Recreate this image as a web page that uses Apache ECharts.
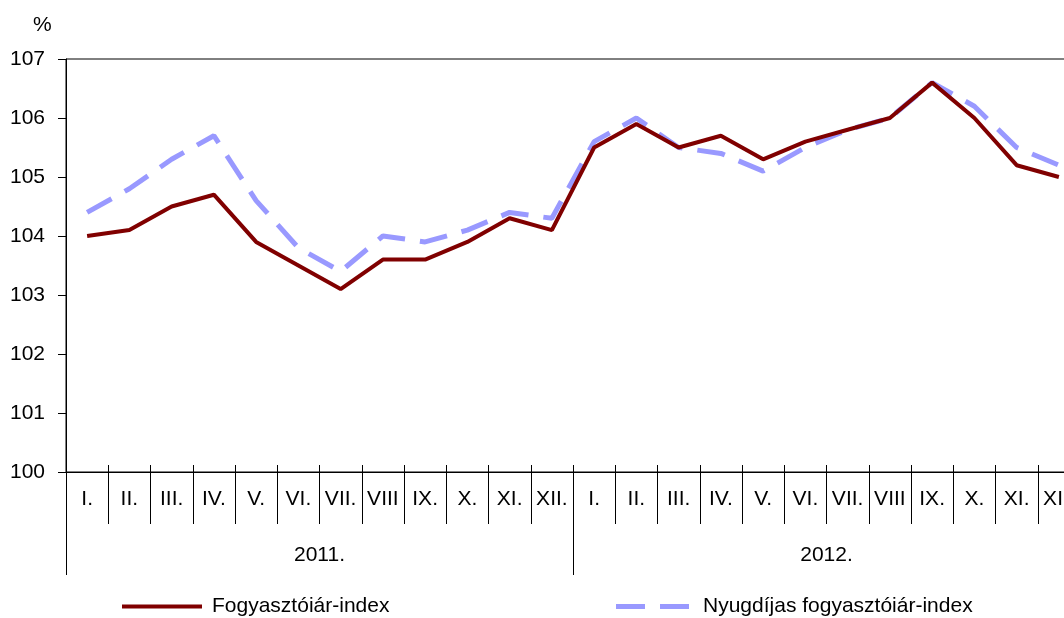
<!DOCTYPE html>
<html>
<head>
<meta charset="utf-8">
<script src="https://cdn.jsdelivr.net/npm/echarts@6/dist/echarts.min.js"></script>
<style>
html,body{margin:0;padding:0;background:#fff;overflow:hidden;width:1064px;height:618px;}
#chart{width:1080px;height:618px;}
</style>
</head>
<body>
<div id="chart"></div>
<script>
var months = ['I.','II.','III.','IV.','V.','VI.','VII.','VIII','IX.','X.','XI.','XII.',
              'I.','II.','III.','IV.','V.','VI.','VII.','VIII','IX.','X.','XI.','XII.'];
var years = ['2011.','2012.'];
var cpi = [104.0,104.1,104.5,104.7,103.9,103.5,103.1,103.6,103.6,103.9,104.3,104.1,
           105.5,105.9,105.5,105.7,105.3,105.6,105.8,106.0,106.6,106.0,105.2,105.0];
var pensionerCpi = [104.4,104.8,105.3,105.7,104.6,103.8,103.4,104.0,103.9,104.1,104.4,104.3,
                    105.6,106.0,105.5,105.4,105.1,105.5,105.8,106.0,106.6,106.2,105.5,105.2];
var yTicks = {min:100, max:107, interval:1};
var seriesNames = ['Fogyasztóiár-index','Nyugdíjas fogyasztóiár-index'];

var FONT = '"Liberation Sans", Arial, sans-serif';
var FS = 21;
var chart = echarts.init(document.getElementById('chart'));
var option = {
  animation:false,
  backgroundColor:'#fff',
  textStyle:{fontFamily:FONT, color:'#000'},
  grid:{left:66, top:59, right:0, bottom:146, show:true, borderColor:'#000', borderWidth:1},
  graphic:[{type:'text', left:33, top:15, style:{text:'%', font:FS + 'px ' + FONT, fill:'#000'}}],
  legend:[
    {data:[{name:seriesNames[0], icon:'path://M0,0h80v4h-80z'}], left:122, top:596, padding:0,
     itemWidth:80, itemHeight:4,
     textStyle:{fontFamily:FONT, fontSize:FS, color:'#000', padding:[0,0,0,5]}},
    {data:[{name:seriesNames[1], icon:'path://M0,0h29v5h-29z M44,0h29v5h-29z'}], left:616, top:596, padding:0,
     itemWidth:73, itemHeight:5,
     textStyle:{fontFamily:FONT, fontSize:FS, color:'#000', padding:[0,0,0,9]}}
  ],
  xAxis:[
    {type:'category', data:months, gridIndex:0, boundaryGap:true, position:'bottom',
     axisLine:{show:true, lineStyle:{color:'#000', width:1}},
     axisTick:{show:true, length:52, interval:0, lineStyle:{color:'#000'}},
     axisLabel:{interval:0, margin:17, fontFamily:FONT, fontSize:FS, color:'#000'},
     splitLine:{show:false}},
    {type:'category', data:months, gridIndex:0, boundaryGap:true, position:'bottom',
     axisLine:{show:false},
     axisTick:{show:true, inside:true, length:7, interval:0, lineStyle:{color:'#000'}},
     axisLabel:{show:false}, splitLine:{show:false}},
    {type:'category', data:years, gridIndex:0, boundaryGap:true, position:'bottom',
     axisLine:{show:false},
     axisTick:{show:true, length:103, interval:0, lineStyle:{color:'#000'}},
     axisLabel:{interval:0, margin:73, fontFamily:FONT, fontSize:FS, color:'#000'},
     splitLine:{show:false}}
  ],
  yAxis:{type:'value', min:yTicks.min, max:yTicks.max, interval:yTicks.interval,
    axisLine:{show:true, lineStyle:{color:'#000', width:1}},
    axisTick:{show:true, length:8, lineStyle:{color:'#000'}},
    axisLabel:{margin:21, fontFamily:FONT, fontSize:FS, color:'#000'},
    splitLine:{show:false}},
  series:[
    {name:seriesNames[1], type:'line', data:pensionerCpi, xAxisIndex:0, symbol:'none', showSymbol:false,
     lineStyle:{color:'#9999FF', width:5, type:[28,15], cap:'butt'}, itemStyle:{color:'#9999FF'}, z:2},
    {name:seriesNames[0], type:'line', data:cpi, xAxisIndex:0, symbol:'none', showSymbol:false,
     lineStyle:{color:'#800000', width:4}, itemStyle:{color:'#800000'}, z:3}
  ]
};
chart.setOption(option);
</script>
</body>
</html>
